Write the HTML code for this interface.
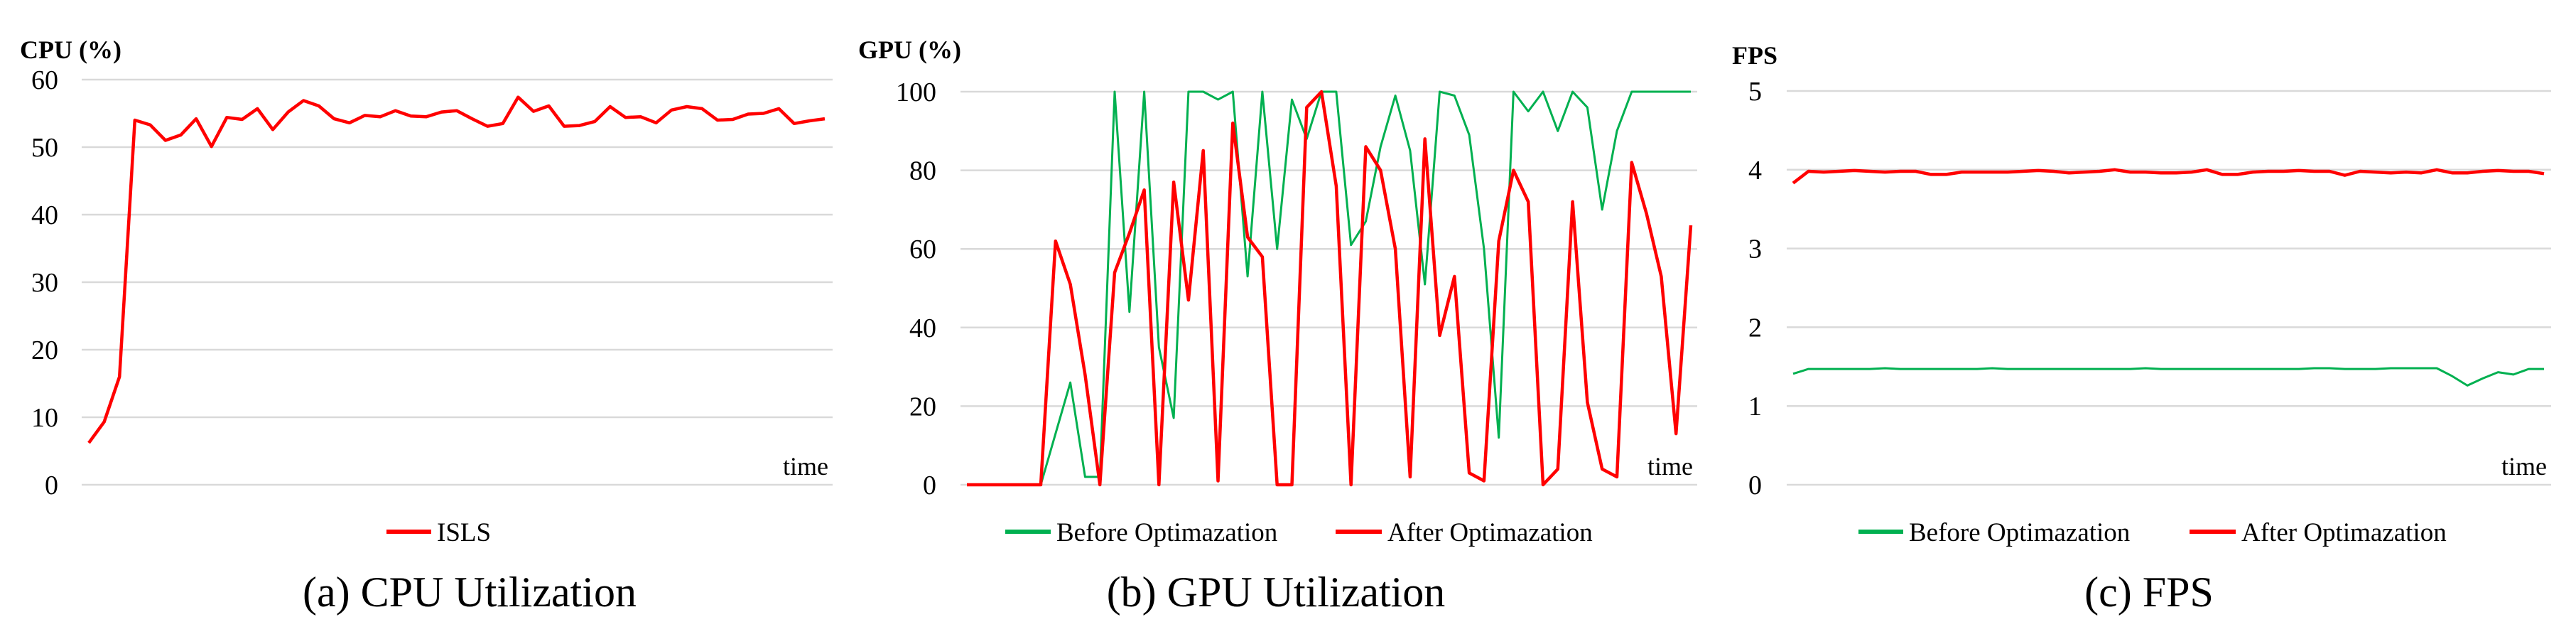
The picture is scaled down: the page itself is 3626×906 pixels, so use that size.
<!DOCTYPE html>
<html><head><meta charset="utf-8"><style>
html,body{margin:0;padding:0;background:#fff;}
svg{display:block;font-family:"Liberation Serif",serif;}
</style></head><body>
<svg id="fig" width="3626" height="906" viewBox="0 0 3626 906" xmlns="http://www.w3.org/2000/svg"></svg>
<script>
const cpuTicks = [0,10,20,30,40,50,60];
const cpuIsls = [6.2,9.3,16,54,53.3,51,51.8,54.2,50.1,54.4,54.1,55.7,52.6,55.2,56.9,56.1,54.2,53.6,54.7,54.5,55.4,54.6,54.5,55.2,55.4,54.2,53.1,53.5,57.4,55.3,56.1,53.1,53.2,53.8,56,54.4,54.5,53.6,55.5,56,55.7,54,54.1,54.9,55,55.7,53.5,53.9,54.2];
const gpuTicks = [0,20,40,60,80,100];
const gpuBefore = [0,0,0,0,0,0,13,26,2,2,100,44,100,35,17,100,100,98,100,53,100,60,98,88,100,100,61,67,86,99,85,51,100,99,89,60,12,100,95,100,90,100,96,70,90,100,100,100,100,100];
const gpuAfter = [0,0,0,0,0,0,62,51,28,0,54,64,75,0,77,47,85,1,92,63,58,0,0,96,100,76,0,86,80,60,2,88,38,53,3,1,62,80,72,0,4,72,21,4,2,82,69,53,13,66];
const fpsTicks = [0,1,2,3,4,5];
const fpsBefore = [1.41,1.47,1.47,1.47,1.47,1.47,1.48,1.47,1.47,1.47,1.47,1.47,1.47,1.48,1.47,1.47,1.47,1.47,1.47,1.47,1.47,1.47,1.47,1.48,1.47,1.47,1.47,1.47,1.47,1.47,1.47,1.47,1.47,1.47,1.48,1.48,1.47,1.47,1.47,1.48,1.48,1.48,1.48,1.38,1.26,1.35,1.43,1.40,1.47,1.47];
const fpsAfter = [3.83,3.98,3.97,3.98,3.99,3.98,3.97,3.98,3.98,3.94,3.94,3.97,3.97,3.97,3.97,3.98,3.99,3.98,3.96,3.97,3.98,4.0,3.97,3.97,3.96,3.96,3.97,4.0,3.94,3.94,3.97,3.98,3.98,3.99,3.98,3.98,3.93,3.98,3.97,3.96,3.97,3.96,4.0,3.96,3.96,3.98,3.99,3.98,3.98,3.95];

const NS="http://www.w3.org/2000/svg";
const svg=document.getElementById('fig');
function mk(tag,attrs,parent){const e=document.createElementNS(NS,tag);for(const k in attrs)e.setAttribute(k,attrs[k]);(parent||svg).appendChild(e);return e;}

function chart(o){
  const g=mk('g',{});
  
  
  const ymax=o.ticks[o.ticks.length-1];
  const ys=v=>o.y0+(o.yTop-o.y0)*v/ymax;
  o.ticks.forEach(t=>{
    const l=mk('line',{x1:o.gx0,x2:o.gx1,y1:ys(t),y2:ys(t),stroke:'#d9d9d9','stroke-width':2.5},g);
    
    
    const tx=mk('text',{x:o.tickX,y:ys(t)+13,'text-anchor':'end','font-size':38},g);
    tx.textContent=t;
    
    
  });
  const tt=mk('text',{x:o.titleX,y:o.titleY,'font-size':36,'font-weight':'bold'},g);
  tt.textContent=o.title;
  
  
  const tm=mk('text',{x:o.gx1-6,y:o.y0-14,'text-anchor':'end','font-size':36},g);
  tm.textContent='time';
  
  
  o.series.forEach(s=>{
    const n=s.data.length;
    const xs=i=>o.dx0+(o.dx1-o.dx0)*i/(n-1);
    const pts=s.data.map((v,i)=>xs(i).toFixed(1)+','+ys(v).toFixed(1)).join(' ');
    const p=mk('polyline',{points:pts,fill:'none',stroke:s.color,'stroke-width':s.w,'stroke-linejoin':'round'},g);
    
    
    const ll=mk('line',{x1:s.lx0,x2:s.lx1,y1:748,y2:748,stroke:s.color,'stroke-width':6},g);
    
    
    const lt=mk('text',{x:s.lx1+8,y:761,'font-size':37},g);
    lt.textContent=s.label;
    
    
  });
  const cap=mk('text',{x:o.capX,y:853,'text-anchor':'middle','font-size':60},g);
  cap.textContent=o.caption;
  
  
}

chart({name:'cpu-chart',ticks:cpuTicks,y0:682,yTop:112,gx0:115,gx1:1172,dx0:125,dx1:1161,tickX:82,title:'CPU (%)',titleX:28,titleY:82,capX:661,caption:'(a) CPU Utilization',
  series:[{data:cpuIsls,color:'#ff0000',w:4.5,sname:'isls-line',label:'ISLS',lx0:544,lx1:607}]});
chart({name:'gpu-chart',ticks:gpuTicks,y0:682,yTop:129,gx0:1352,gx1:2389,dx0:1361,dx1:2380,tickX:1318,title:'GPU (%)',titleX:1208,titleY:82,capX:1796,caption:'(b) GPU Utilization',
  series:[{data:gpuBefore,color:'#00b050',w:3,sname:'before-line',label:'Before Optimazation',lx0:1415,lx1:1479},
          {data:gpuAfter,color:'#ff0000',w:4.5,sname:'after-line',label:'After Optimazation',lx0:1880,lx1:1945}]});
chart({name:'fps-chart',ticks:fpsTicks,y0:682,yTop:128,gx0:2515,gx1:3591,dx0:2524,dx1:3581,tickX:2480,title:'FPS',titleX:2438,titleY:90,capX:3025,caption:'(c) FPS',
  series:[{data:fpsBefore,color:'#00b050',w:3,sname:'before-line',label:'Before Optimazation',lx0:2616,lx1:2679},
          {data:fpsAfter,color:'#ff0000',w:4.5,sname:'after-line',label:'After Optimazation',lx0:3082,lx1:3147}]});
</script>
</body></html>
